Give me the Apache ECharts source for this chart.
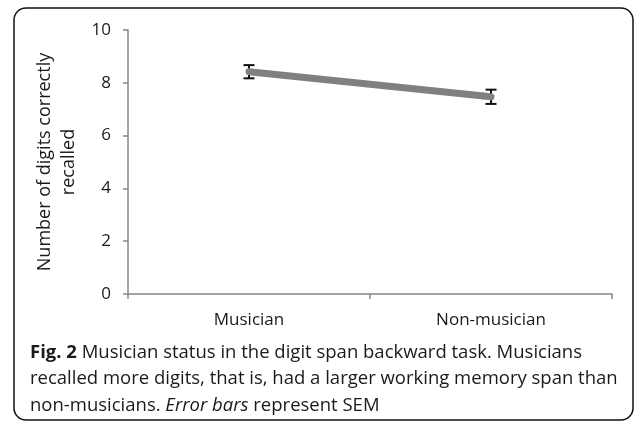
<!DOCTYPE html>
<html>
<head>
<meta charset="utf-8">
<script src="https://cdn.jsdelivr.net/npm/echarts@6/dist/echarts.min.js"></script>
<style>
  html, body { margin: 0; padding: 0; background: #fff; }
  #chart { width: 636px; height: 426px; }
</style>
</head>
<body>
<div id="chart"></div>
<script>
// Digit span backward: group means with SEM
const groups = ['Musician', 'Non-musician'];
const meanDigits = [8.42, 7.47];
const semDigits = [0.25, 0.27];
const yTicks = [0, 2, 4, 6, 8, 10];

const chart = echarts.init(document.getElementById('chart'));
const axisGray = '#878787';
const textDark = '#1a1a1a';
const font = '"Open Sans", sans-serif';

const errorData = groups.map((g, i) => [i, meanDigits[i] - semDigits[i], meanDigits[i] + semDigits[i]]);

chart.setOption({
  animation: false,
  grid: { left: 128, right: 24, top: 30, bottom: 132 },
  xAxis: {
    type: 'category',
    data: groups,
    boundaryGap: true,
    axisLine: { lineStyle: { color: axisGray, width: 1.5 } },
    axisTick: { show: true, length: 5, lineStyle: { color: axisGray, width: 1.5 } },
    axisLabel: { color: textDark, fontFamily: font, fontSize: 17, margin: 18 }
  },
  yAxis: {
    type: 'value',
    min: yTicks[0],
    max: yTicks[yTicks.length - 1],
    interval: 2,
    name: 'Number of digits correctly\nrecalled',
    nameLocation: 'middle',
    nameRotate: 90,
    nameGap: 40,
    nameTextStyle: { color: textDark, fontFamily: font, fontSize: 18, lineHeight: 24 },
    splitLine: { show: false },
    axisLine: { show: true, lineStyle: { color: axisGray, width: 1.5 } },
    axisTick: { show: true, length: 5, lineStyle: { color: axisGray, width: 1.5 } },
    axisLabel: { color: textDark, fontFamily: font, fontSize: 17, margin: 17 }
  },
  series: [
    {
      type: 'custom',
      z: 1,
      data: errorData,
      renderItem: function (params, api) {
        const x = api.value(0);
        const lo = api.coord([x, api.value(1)]);
        const hi = api.coord([x, api.value(2)]);
        const half = 5.5;
        const style = { stroke: '#111', lineWidth: 2 };
        return {
          type: 'group',
          children: [
            { type: 'line', shape: { x1: lo[0], y1: lo[1], x2: hi[0], y2: hi[1] }, style: style },
            { type: 'line', shape: { x1: lo[0] - half, y1: lo[1], x2: lo[0] + half, y2: lo[1] }, style: style },
            { type: 'line', shape: { x1: hi[0] - half, y1: hi[1], x2: hi[0] + half, y2: hi[1] }, style: style }
          ]
        };
      }
    },
    {
      type: 'line',
      z: 2,
      data: meanDigits,
      symbol: 'none',
      lineStyle: { color: '#808080', width: 7, cap: 'round' }
    }
  ],
  graphic: [
    {
      type: 'rect',
      shape: { x: 14, y: 8, width: 619, height: 412, r: 12 },
      style: { fill: 'none', stroke: '#111', lineWidth: 1.5 },
      z: -1
    },
    {
      type: 'text',
      left: 30,
      top: 339,
      style: {
        text: '{b|Fig. 2} Musician status in the digit span backward task. Musicians\nrecalled more digits, that is, had a larger working memory span than\nnon-musicians. {i|Error bars} represent SEM',
        fontFamily: font,
        fontSize: 18.5,
        lineHeight: 26.5,
        fill: textDark,
        rich: {
          b: { fontWeight: 'bold', fontFamily: font, fontSize: 18.5, fill: textDark },
          i: { fontStyle: 'italic', fontFamily: font, fontSize: 18.5, fill: textDark }
        }
      }
    }
  ]
});
</script>
</body>
</html>
